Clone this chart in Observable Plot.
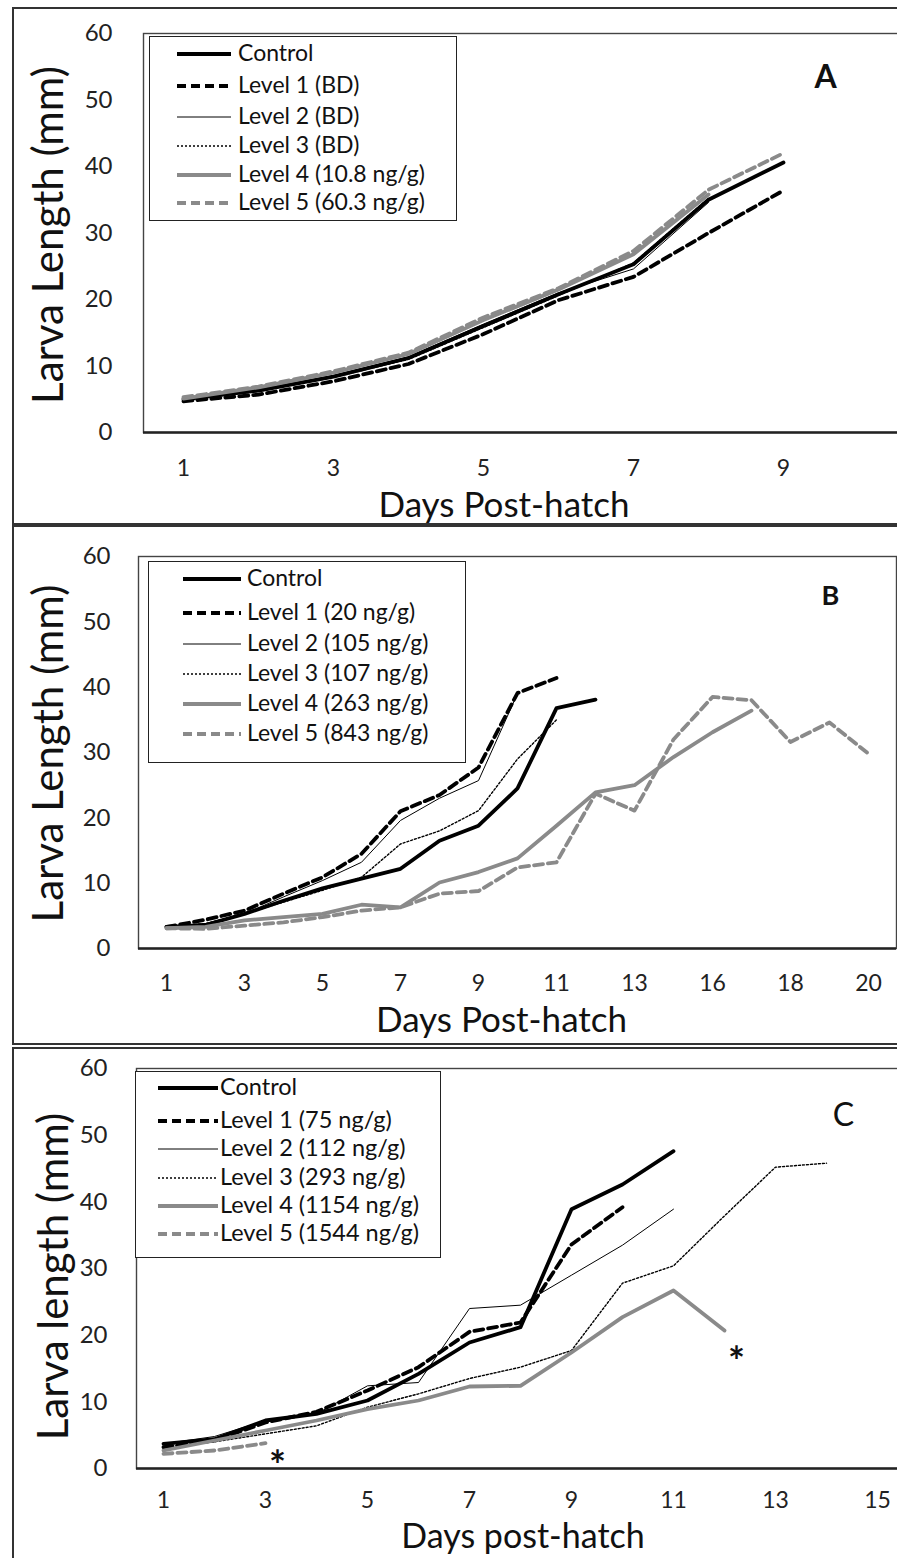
<!DOCTYPE html>
<html>
<head>
<meta charset="utf-8">
<script src="https://cdn.jsdelivr.net/npm/d3@7"></script>
<script src="https://cdn.jsdelivr.net/npm/@observablehq/plot@0.6"></script>
<style>
  body { margin: 0; background: #fff; font-family: Lato, "Open Sans", sans-serif; }
  #page { position: relative; width: 897px; height: 1558px; overflow: hidden; background: #fff; }
  #page svg { max-width: none !important; }
  .panel { position: absolute; border: 2px solid #333; box-sizing: border-box; }
  .chart { position: absolute; left: 0; }
  .legend { position: absolute; border: 1.6px solid #222; background: #fff; box-sizing: border-box; }
  .legend span { position: absolute; white-space: nowrap; line-height: 1; color: #111; font-family: Lato, sans-serif; }
  .legend svg { position: absolute; left: 0; top: 0; overflow: visible; }
</style>
</head>
<body>
<div id="page"></div>
<script>
// ---------------- DATA ----------------
// Panel A
const daysA = ["1","2","3","4","5","6","7","8","9","10"];
const ticksA = ["1","3","5","7","9"];
const namesA = ["Control","Level 1 (BD)","Level 2 (BD)","Level 3 (BD)","Level 4 (10.8 ng/g)","Level 5 (60.3 ng/g)"];
const aControl = [5.0, 6.3, 8.4, 11.2, 16.0, 20.8, 25.3, 35.0, 40.6];
const aLevel1  = [4.7, 5.7, 7.7, 10.3, 14.8, 19.9, 23.4, 30.0, 36.4];
const aLevel2  = [5.0, 6.5, 8.6, 11.4, 16.3, 21.0, 24.6, 34.6];
const aLevel3  = [4.9, 6.2, 8.3, 11.0, 15.8, 20.6, 25.5, 35.2];
const aLevel4  = [5.1, 6.8, 9.0, 11.8, 16.9, 21.5, 26.8, 35.8];
const aLevel5  = [5.3, 6.9, 9.2, 12.0, 17.3, 21.7, 27.3, 36.5, 42.0];

// Panel B
const daysB = ["1","2","3","4","5","6","7","8","9","10","11","12","13","14","16","17","18","19","20"];
const ticksB = ["1","3","5","7","9","11","13","16","18","20"];
const namesB = ["Control","Level 1 (20 ng/g)","Level 2 (105 ng/g)","Level 3 (107 ng/g)","Level 4 (263 ng/g)","Level 5 (843 ng/g)"];
const bControl = [3.3, 3.6, 5.3, 7.3, 9.2, 10.7, 12.2, 16.5, 18.8, 24.5, 36.8, 38.1];
const bLevel1  = [3.3, 4.4, 5.8, 8.4, 10.9, 14.5, 21.0, 23.5, 27.7, 39.1, 41.4];
const bLevel2  = [3.3, 3.8, 5.3, 7.9, 10.4, 13.2, 19.6, 23.0, 25.7, 39.0];
const bLevel3  = [3.3, 3.8, 5.3, 7.1, 8.9, 10.9, 16.0, 18.0, 21.1, 29.0, 35.0];
const bLevel4  = [3.1, 3.3, 4.3, 4.8, 5.3, 6.7, 6.3, 10.1, 11.7, 13.8, 18.8, 23.9, 25.0, 29.3, 33.1, 36.4];
const bLevel5  = [3.1, 3.0, 3.5, 4.0, 4.8, 5.8, 6.3, 8.4, 8.8, 12.4, 13.2, 23.7, 21.1, 32.0, 38.5, 38.0, 31.6, 34.6, 29.8];

// Panel C
const daysC = ["1","2","3","4","5","6","7","8","9","10","11","12","13","14","15"];
const ticksC = ["1","3","5","7","9","11","13","15"];
const namesC = ["Control","Level 1 (75 ng/g)","Level 2 (112 ng/g)","Level 3 (293 ng/g)","Level 4 (1154 ng/g)","Level 5 (1544 ng/g)"];
const cControl = [3.7, 4.4, 7.2, 8.2, 10.2, 14.2, 18.9, 21.2, 38.9, 42.6, 47.6];
const cLevel1  = [3.2, 4.2, 6.9, 8.5, 11.7, 15.2, 20.5, 21.9, 33.6, 39.2];
const cLevel2  = [3.7, 4.8, 7.2, 8.2, 12.4, 12.9, 24.0, 24.5, 29.0, 33.5, 38.9];
const cLevel3  = [3.2, 4.0, 5.2, 6.4, 9.2, 11.2, 13.5, 15.2, 17.7, 27.8, 30.4, 37.9, 45.2, 45.8];
const cLevel4  = [2.7, 4.2, 5.7, 7.2, 8.9, 10.2, 12.3, 12.4, 17.4, 22.7, 26.7, 20.7];
const cLevel5  = [2.2, 2.7, 3.8];
const starDays = ["3","12"];
const starVals = [2.2, 17.7];

const yTicks = [0, 10, 20, 30, 40, 50, 60];

// ---------------- STYLES ----------------
const styles = [
  {stroke: "#000", width: 3.8, dash: null},
  {stroke: "#000", width: 3.8, dash: "9,5"},
  {stroke: "#000", width: 1.0, dash: null},
  {stroke: "#000", width: 1.4, dash: "2,2"},
  {stroke: "#8a8a8a", width: 3.8, dash: null},
  {stroke: "#8a8a8a", width: 3.8, dash: "9,5"}
];

const page = document.getElementById("page");

function addPanelBox(left, top, width, height) {
  const d = document.createElement("div");
  d.className = "panel";
  Object.assign(d.style, {left: left + "px", top: top + "px", width: width + "px", height: height + "px"});
  page.appendChild(d);
}

function makeChart(cfg) {
  const marks = [
    Plot.frame({stroke: "#444", strokeWidth: 1.4}),
    Plot.ruleY([0], {stroke: "#222", strokeWidth: 2.6}),
    Plot.axisY({ticks: yTicks, tickSize: 0, tickPadding: cfg.yPad, fontSize: 24, label: null, fill: "#222"}),
    Plot.axisX({ticks: cfg.xTicks, tickSize: 0, tickPadding: cfg.xPad, fontSize: 23, label: null, fill: "#222"})
  ];
  cfg.series.forEach((vals, s) => {
    const st = styles[s];
    marks.push(Plot.line(vals.map((v, i) => ({day: cfg.days[i], v})), {
      x: "day", y: "v", stroke: st.stroke, strokeWidth: st.width,
      strokeDasharray: st.dash || undefined, strokeLinejoin: "round"
    }));
  });
  marks.push(Plot.text([cfg.xTitle], {frameAnchor: "bottom", textAnchor: "middle", lineAnchor: "middle",
    dx: cfg.xTitleDx, dy: cfg.xTitleDy, fontSize: cfg.xTitleSize, fill: "#111"}));
  marks.push(Plot.text([cfg.yTitle], {frameAnchor: "left", textAnchor: "middle", lineAnchor: "middle",
    rotate: -90, dx: cfg.yTitleDx, dy: cfg.yTitleDy, fontSize: 42, fill: "#111"}));
  marks.push(Plot.text([cfg.letter], {frameAnchor: "top-right", textAnchor: "middle", lineAnchor: "middle",
    dx: cfg.letterDx, dy: cfg.letterDy, fontSize: cfg.letterSize, fontWeight: cfg.letterWeight, fill: "#111"}));
  if (cfg.stars) {
    marks.push(Plot.text(cfg.stars.days.map((d, i) => ({day: d, v: cfg.stars.vals[i]})), {
      x: "day", y: "v", text: () => "*", dx: 12, dy: 13, fontSize: 40, fontWeight: "bold", fill: "#111"
    }));
  }
  const svg = Plot.plot({
    width: cfg.width, height: cfg.height,
    marginTop: cfg.mt, marginBottom: cfg.mb, marginLeft: cfg.ml, marginRight: cfg.mr,
    x: {type: "point", domain: cfg.days, padding: 0.5},
    y: {domain: [0, 60]},
    style: {fontFamily: "Lato, sans-serif", color: "#111", background: "transparent", overflow: "visible"},
    marks
  });
  svg.classList.add("chart");
  svg.style.top = cfg.top + "px";
  page.appendChild(svg);
}

function addLegend(cfg, names) {
  const box = document.createElement("div");
  box.className = "legend";
  Object.assign(box.style, {left: cfg.left + "px", top: cfg.top + "px",
    width: (cfg.right - cfg.left) + "px", height: (cfg.bottom - cfg.top) + "px"});
  const svg = d3.create("svg").attr("width", cfg.right - cfg.left).attr("height", cfg.bottom - cfg.top);
  names.forEach((name, i) => {
    const st = styles[i];
    const cy = cfg.rows[i] - cfg.top;
    svg.append("line")
      .attr("x1", cfg.lineX[0] - cfg.left).attr("x2", cfg.lineX[1] - cfg.left)
      .attr("y1", cy).attr("y2", cy)
      .attr("stroke", st.stroke).attr("stroke-width", st.width)
      .attr("stroke-dasharray", st.dash);
    const sp = document.createElement("span");
    sp.textContent = name;
    Object.assign(sp.style, {left: (cfg.textX - cfg.left) + "px", top: (cy - cfg.fontSize * 0.55) + "px",
      fontSize: cfg.fontSize + "px"});
    box.appendChild(sp);
  });
  box.appendChild(svg.node());
  page.appendChild(box);
}

// Panel boxes
addPanelBox(12, 7, 1000, 518);
addPanelBox(12, 525, 1000, 520);
addPanelBox(12, 1047, 1000, 600);

// Charts
makeChart({
  top: 0, width: 898, height: 522, mt: 33, mb: 90, ml: 143, mr: 0,
  days: daysA, xTicks: ticksA, yPad: 31, xPad: 27,
  series: [aControl, aLevel1, aLevel2, aLevel3, aLevel4, aLevel5],
  xTitle: "Days Post-hatch", xTitleSize: 35, xTitleDx: -17, xTitleDy: 73,
  yTitle: "Larva Length (mm)", yTitleDx: -94, yTitleDy: 2,
  letter: "A", letterDx: -73, letterDy: 44, letterSize: 32, letterWeight: "bold"
});
makeChart({
  top: 526, width: 897, height: 517, mt: 30, mb: 95, ml: 138, mr: 1,
  days: daysB, xTicks: ticksB, yPad: 28, xPad: 26,
  series: [bControl, bLevel1, bLevel2, bLevel3, bLevel4, bLevel5],
  xTitle: "Days Post-hatch", xTitleSize: 35, xTitleDx: -16, xTitleDy: 72,
  yTitle: "Larva Length (mm)", yTitleDx: -89, yTitleDy: 1,
  letter: "B", letterDx: -66, letterDy: 40, letterSize: 27, letterWeight: "bold"
});
makeChart({
  top: 1048, width: 903, height: 510, mt: 20, mb: 90, ml: 136, mr: 0,
  days: daysC, xTicks: ticksC, yPad: 29, xPad: 23,
  series: [cControl, cLevel1, cLevel2, cLevel3, cLevel4, cLevel5],
  xTitle: "Days post-hatch", xTitleSize: 34, xTitleDx: 3, xTitleDy: 69,
  yTitle: "Larva length (mm)", yTitleDx: -82, yTitleDy: 8,
  letter: "C", letterDx: -60, letterDy: 47, letterSize: 32, letterWeight: "normal",
  stars: {days: starDays, vals: starVals}
});

// Legends
addLegend({left: 149, top: 36, right: 457, bottom: 221, rows: [53, 85, 116, 145, 174, 202],
  lineX: [176, 230], textX: 237, fontSize: 23}, namesA);
addLegend({left: 148, top: 561, right: 466, bottom: 763, rows: [578, 612, 643, 673, 703, 733],
  lineX: [182, 240], textX: 246, fontSize: 23}, namesB);
addLegend({left: 135, top: 1071, right: 441, bottom: 1258, rows: [1087, 1120, 1148, 1177, 1205, 1233],
  lineX: [157, 217], textX: 219, fontSize: 23.5}, namesC);
</script>
</body>
</html>
